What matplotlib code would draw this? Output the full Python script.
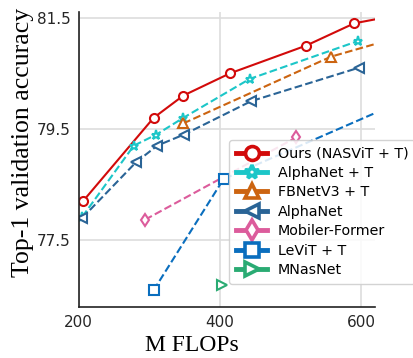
import matplotlib
matplotlib.use('Agg')
import matplotlib.pyplot as plt

ours_flops = [206, 306, 348, 414, 522, 590, 757]
ours_acc = [78.2, 79.7, 80.1, 80.5, 81.0, 81.4, 81.8]
alphanet_t_flops = [205, 278, 310, 348, 442, 595]
alphanet_t_acc = [77.92, 79.2, 79.4, 79.7, 80.4, 81.08]
fbnet_t_flops = [348, 557, 708]
fbnet_t_acc = [79.6, 80.8, 81.35]
alphanet_flops = [205, 281, 311, 349, 444, 596]
alphanet_acc = [77.9, 78.9, 79.2, 79.4, 80.0, 80.6]
mobile_former_flops = [294, 508]
mobile_former_acc = [77.87, 79.35]
levit_flops = [306, 405, 658]
levit_acc = [76.6, 78.6, 80.0]
mnasnet_flops = [403]
mnasnet_acc = [76.7]

fig = plt.figure(figsize=(4.14, 3.58), dpi=100)
ax = fig.add_axes([0.19, 0.1425, 0.717, 0.8235])

kw = dict(markersize=6.5, markeredgewidth=1.5, markerfacecolor='white', linewidth=1.5)
ax.plot(ours_flops, ours_acc, '-', marker='o', color='#d20a0a', label='Ours (NASViT + T)', **kw)
ax.plot(alphanet_t_flops, alphanet_t_acc, '--', marker='*', color='#1cc6c8', label='AlphaNet + T', **kw)
ax.plot(fbnet_t_flops, fbnet_t_acc, '--', marker='^', color='#cc6410', label='FBNetV3 + T', **kw)
ax.plot(alphanet_flops, alphanet_acc, '--', marker='<', color='#2a6496', label='AlphaNet', **kw)
ax.plot(mobile_former_flops, mobile_former_acc, '--', marker='d', color='#dc5c9c', label='Mobiler-Former', **kw)
ax.plot(levit_flops, levit_acc, '--', marker='s', color='#0a6ebe', label='LeViT + T', **kw)
ax.plot(mnasnet_flops, mnasnet_acc, '--', marker='>', color='#2aab73', label='MNasNet', **kw)

ax.set_xlim(200, 620)
ax.set_ylim(76.3, 81.6)
ax.set_xticks([200, 400, 600])
ax.set_yticks([77.5, 79.5, 81.5])
ax.grid(True, color='#dddddd', linewidth=1.2)
ax.set_axisbelow(True)
for s in ['top', 'right']:
    ax.spines[s].set_visible(False)
for s in ['left', 'bottom']:
    ax.spines[s].set_color('#222222')
    ax.spines[s].set_linewidth(1.2)
ax.tick_params(length=0, pad=6, labelsize=11, labelcolor='#262626')

ax.set_xlabel('M FLOPs', family='Liberation Serif', fontsize=17)
ax.set_ylabel('Top-1 validation accuracy', family='Liberation Serif', fontsize=18.5)
ax.xaxis.set_label_coords(0.381, -0.095)
ax.yaxis.set_label_coords(-0.15, 0.559)

leg = ax.legend(loc='upper left', bbox_to_anchor=(0.508, 0.566), borderaxespad=0,
                fontsize=10.3, handlelength=2.2, handletextpad=0.75, labelspacing=0.38,
                borderpad=0.45, edgecolor='#cccccc', framealpha=0.85)
for h in leg.legend_handles:
    h.set_linewidth(3.5)
    h.set_markersize(10)
    h.set_markeredgewidth(2.6)
    h.set_linestyle('-')

fig.savefig('out.png', dpi=100)
